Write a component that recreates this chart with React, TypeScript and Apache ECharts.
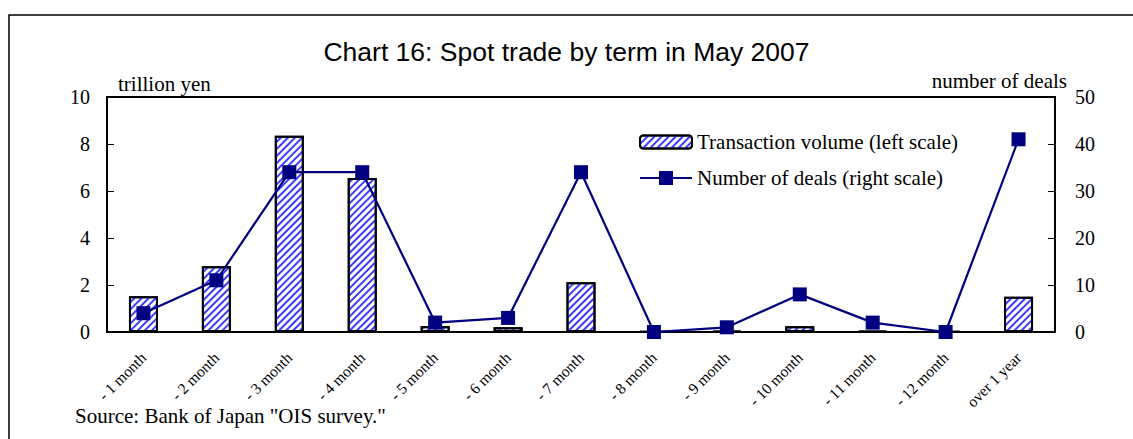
import React, { useEffect, useRef } from "react";
import * as echarts from "echarts";

const categories = [
  "- 1 month", "- 2 month", "- 3 month", "- 4 month", "- 5 month", "- 6 month",
  "- 7 month", "- 8 month", "- 9 month", "- 10 month", "- 11 month", "- 12 month", "over 1 year",
];
const volume = [1.52, 2.8, 8.35, 6.55, 0.25, 0.2, 2.12, 0.03, 0.05, 0.25, 0.05, 0.02, 1.5];
const deals = [4, 11, 34, 34, 2, 3, 34, 0, 1, 8, 2, 0, 41];
const leftTicks = { min: 0, max: 10, interval: 2 };
const rightTicks = { min: 0, max: 50, interval: 10 };

const serif = "'Liberation Serif', 'Times New Roman', serif";
const sans = "'Liberation Sans', Arial, sans-serif";

const barName = "Transaction volume (left scale)";
const lineName = "Number of deals (right scale)";

export default function App() {
  const ref = useRef<HTMLDivElement>(null);
  useEffect(() => {
    if (!ref.current) return;
    const chart = echarts.init(ref.current, undefined, { renderer: "svg" });
    const decal = {
      symbol: "rect",
      symbolSize: 1,
      color: "#3b3bff",
      backgroundColor: "#ffffff",
      dashArrayX: [1, 0],
      dashArrayY: [1.6, 2.6],
      rotation: -Math.PI / 4,
    };
    const legendText = { fontFamily: serif, fontSize: 21, color: "#000", lineHeight: 24 };
    chart.setOption({
      animation: false,
      backgroundColor: "#ffffff",
      title: {
        text: "Chart 16: Spot trade by term in May 2007",
        left: "center",
        top: 33,
        textStyle: { fontFamily: sans, fontSize: 26.5, fontWeight: "normal", color: "#000" },
      },
      grid: {
        left: 107, top: 97, right: 78, bottom: 107,
        show: true, borderColor: "#000", borderWidth: 2, backgroundColor: "transparent",
      },
      legend: [
        {
          left: 634, top: 125, itemWidth: 52, itemHeight: 13,
          textStyle: legendText, data: [barName],
        },
        {
          left: 634, top: 161, itemWidth: 52, itemHeight: 17.5,
          textStyle: legendText, data: [lineName],
        },
      ],
      xAxis: {
        type: "category",
        data: categories,
        axisLine: { lineStyle: { color: "#000", width: 2 } },
        axisTick: { inside: true, length: 5, lineStyle: { color: "#000" } },
        axisLabel: { interval: 0, rotate: 45, fontFamily: serif, fontSize: 15.5, color: "#000", margin: 23 },
      },
      yAxis: [
        {
          type: "value", ...leftTicks,
          axisLine: { show: true, lineStyle: { color: "#000", width: 2 } },
          axisTick: { show: true, inside: true, length: 7, lineStyle: { color: "#000" } },
          axisLabel: { fontFamily: serif, fontSize: 20, color: "#000", margin: 17 },
          splitLine: { show: false },
        },
        {
          type: "value", ...rightTicks,
          axisLine: { show: true, lineStyle: { color: "#000", width: 2 } },
          axisTick: { show: true, inside: true, length: 7, lineStyle: { color: "#000" } },
          axisLabel: { fontFamily: serif, fontSize: 20, color: "#000", margin: 20 },
          splitLine: { show: false },
        },
      ],
      series: [
        {
          name: barName,
          type: "bar",
          yAxisIndex: 0,
          data: volume,
          barWidth: 29,
          itemStyle: { color: "#ffffff", borderColor: "#000", borderWidth: 2, decal },
        },
        {
          name: lineName,
          type: "line",
          yAxisIndex: 1,
          data: deals,
          symbol: "rect",
          symbolSize: 14,
          lineStyle: { color: "#000080", width: 2.2 },
          itemStyle: { color: "#000080" },
        },
      ],
      graphic: [
        {
          type: "rect",
          shape: { x: 9, y: 15, width: 1300, height: 600 },
          style: { fill: "none", stroke: "#000", lineWidth: 1.5 },
          silent: true,
        },
        {
          type: "text", x: 118, y: 84,
          style: { text: "trillion yen", font: `21px ${serif}`, fill: "#000", textVerticalAlign: "middle" },
        },
        {
          type: "text", x: 1067, y: 81,
          style: { text: "number of deals", font: `21px ${serif}`, fill: "#000", textAlign: "right", textVerticalAlign: "middle" },
        },
        {
          type: "text", x: 75, y: 416,
          style: { text: 'Source: Bank of Japan "OIS survey."', font: `21px ${serif}`, fill: "#000", textVerticalAlign: "middle" },
        },
      ],
    });
    return () => chart.dispose();
  }, []);
  return (
    <div
      ref={ref}
      style={{ position: "fixed", left: 0, top: 0, width: 1133, height: 439 }}
    />
  );
}
